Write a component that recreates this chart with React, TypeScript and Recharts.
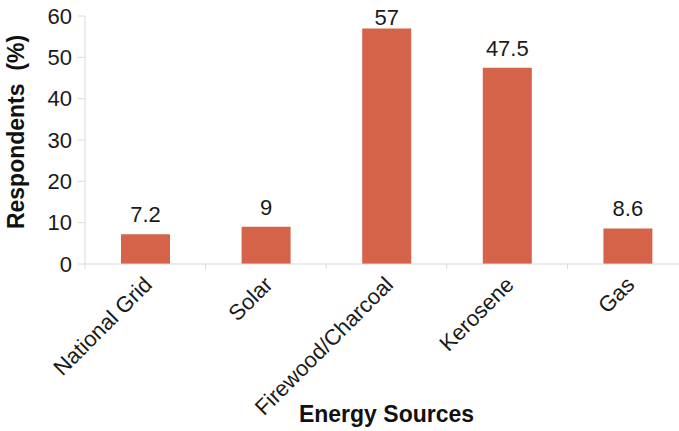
import React from 'react';
import { BarChart, Bar, XAxis, YAxis, LabelList, Label } from 'recharts';

const sources = ['National Grid', 'Solar', 'Firewood/Charcoal', 'Kerosene', 'Gas'];
const respondents = [7.2, 9, 57, 47.5, 8.6];
const yTicks = [0, 10, 20, 30, 40, 50, 60];

const chartData = sources.map((name, i) => ({ name, value: respondents[i] }));

const FONT = '"Liberation Sans", Arial, Helvetica, sans-serif';
const BAR = '#d4634a';
const AXIS = '#d9d9d9';

// category tick: label rotated -45deg plus small marks on the band edges
const SourceTick = (props: any) => {
  const { x, y, payload, index } = props;
  const half = payload.offset ?? 0;
  const last = index === sources.length - 1;
  return (
    <g>
      <line x1={x - half} x2={x - half} y1={y} y2={y + 5} stroke={AXIS} />
      {last && <line x1={x + half} x2={x + half} y1={y} y2={y + 5} stroke={AXIS} />}
      <text
        x={0}
        y={0}
        transform={`translate(${x + 8},${y + 22}) rotate(-45)`}
        textAnchor="end"
        fontSize={22}
        fontFamily={FONT}
        fill="#1a1a1a"
      >
        {payload.value}
      </text>
    </g>
  );
};

// value above each bar, kept inside the chart when the bar is tall
const ValueLabel = (props: any) => {
  const { x, y, width, value } = props;
  const baseline = Math.max(y - 12, 25);
  return (
    <text x={x + width / 2} y={baseline} textAnchor="middle" fontSize={22} fontFamily={FONT} fill="#1a1a1a">
      {value}
    </text>
  );
};

const YTitle = (props: any) => {
  const { viewBox } = props;
  const cx = 24;
  const cy = viewBox.y + viewBox.height / 2 - 8;
  return (
    <text
      x={cx}
      y={cy}
      transform={`rotate(-90, ${cx}, ${cy})`}
      textAnchor="middle"
      fontSize={23}
      fontWeight="bold"
      fontFamily={FONT}
      fill="#111"
      style={{ whiteSpace: 'pre' }}
    >
      {'Respondents  (%)'}
    </text>
  );
};

export default function App() {
  return (
    <div style={{ width: 679, height: 431, overflow: 'hidden', background: '#fff' }}>
      <style>{'body{margin:0}'}</style>
      <BarChart
        width={700}
        height={431}
        data={chartData}
        margin={{ top: 16, right: 12, left: 0, bottom: 0 }}
      >
        <XAxis
          dataKey="name"
          height={167}
          interval={0}
          axisLine={{ stroke: AXIS }}
          tickLine={false}
          tickSize={0}
          tickMargin={0}
          tick={<SourceTick />}
        >
          <Label
            value="Energy Sources"
            position="insideBottom"
            offset={9}
            fontSize={23}
            fontWeight="bold"
            fontFamily={FONT}
            fill="#111"
          />
        </XAxis>
        <YAxis
          width={85}
          domain={[0, 60]}
          ticks={yTicks}
          interval={0}
          axisLine={{ stroke: AXIS }}
          tickLine={{ stroke: AXIS }}
          tickSize={7}
          tickMargin={6}
          tick={{ fontSize: 22, fontFamily: FONT, fill: '#1a1a1a' }}
        >
          <Label content={<YTitle />} />
        </YAxis>
        <Bar dataKey="value" fill={BAR} barSize={49} isAnimationActive={false}>
          <LabelList dataKey="value" content={<ValueLabel />} />
        </Bar>
      </BarChart>
    </div>
  );
}
